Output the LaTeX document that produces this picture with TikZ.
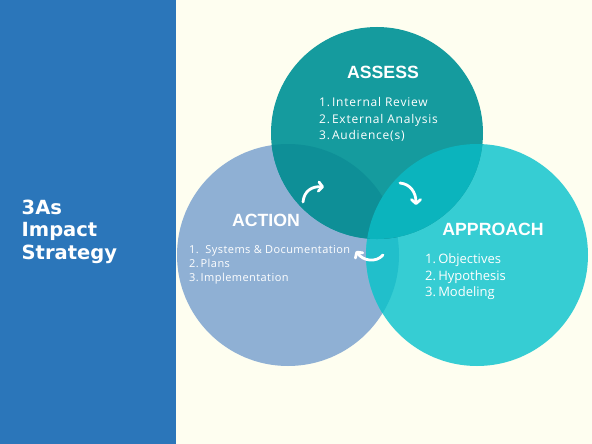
\documentclass[tikz,border=0pt]{standalone}
\usepackage{fontspec}
\setmainfont{Open Sans}
\newfontfamily\headfont{Liberation Sans}
\newfontfamily\titlefont{DejaVu Sans}
\newfontfamily\wideassess{Open Sans}[LetterSpace=6.5]
\newfontfamily\wideaction{Open Sans}[LetterSpace=4]
\usetikzlibrary{arrows.meta}
\definecolor{cream}{HTML}{FEFEF0}
\definecolor{panelblue}{HTML}{2B76BA}
\definecolor{assessteal}{HTML}{159B9E}
\definecolor{actionblue}{HTML}{8FB0D4}
\definecolor{approachcyan}{HTML}{36CDD3}
\definecolor{assessdark}{HTML}{0E8F97}
\definecolor{assessmix}{HTML}{0BB4BD}
\definecolor{actionmix}{HTML}{21BFCB}
\tikzset{
  head/.style={inner sep=0pt, text=white, anchor=base, font=\headfont\bfseries\fontsize{17.7}{20}\selectfont},
  item/.style={inner sep=0pt, text=white, anchor=base west, font=\fontsize{12}{14}\selectfont},
  title/.style={inner sep=0pt, text=white, anchor=base west, font=\titlefont\bfseries\fontsize{19.5}{24}\selectfont},
  turn/.style={draw=white, line width=2.8pt, line cap=round, -{Straight Barb[length=4pt, width=9pt, round]}}
}
\begin{document}
\begin{tikzpicture}[x=1pt, y=-1pt]
    \useasboundingbox (0,0) rectangle (592,444);
    \fill[cream] (0,0) rectangle (592,444);
    \fill[panelblue] (0,0) rectangle (176,444);

    \fill[actionblue] (288,255) circle[radius=111];
    \fill[approachcyan] (477,255) circle[radius=111];
    \begin{scope}
        \clip (288,255) circle[radius=111];
        \fill[actionmix] (477,255) circle[radius=111];
    \end{scope}
    \fill[assessteal] (377,133) circle[radius=106];
    \begin{scope}
        \clip (377,133) circle[radius=106];
        \fill[assessdark] (288,255) circle[radius=111];
        \fill[assessmix] (477,255) circle[radius=111];
    \end{scope}

    \node[title] (t1) at (21.5,214) {3As};
    \node[title] (t2) at (21.5,236.7) {Impact};
    \node[title] (t3) at (21.5,259) {Strategy};

    \node[head] (assess) at (383,78.3) {ASSESS};
    \node[item, font=\wideassess\fontsize{12}{14}\selectfont] (as1) at (319,106.5) {1.\,Internal Review};
    \node[item, font=\wideassess\fontsize{12}{14}\selectfont] (as2) at (319,123) {2.\,External Analysis};
    \node[item, font=\wideassess\fontsize{12}{14}\selectfont] (as3) at (319,139.5) {3.\,Audience(s)};

    \node[head] (action) at (266,226.7) {ACTION};
    \node[item, font=\wideaction\fontsize{11}{13}\selectfont] (ac1) at (189,253) {1.\ \ Systems \& Documentation};
    \node[item, font=\wideaction\fontsize{11}{13}\selectfont] (ac2) at (189,267.5) {2.\,Plans};
    \node[item, font=\wideaction\fontsize{11}{13}\selectfont] (ac3) at (189,281.5) {3.\,Implementation};

    \node[head] (approach) at (493,235) {APPROACH};
    \node[item, font=\fontsize{13}{15}\selectfont] (ap1) at (425,263) {1.\,Objectives};
    \node[item, font=\fontsize{13}{15}\selectfont] (ap2) at (425,280) {2.\,Hypothesis};
    \node[item, font=\fontsize{13}{15}\selectfont] (ap3) at (425,296.5) {3.\,Modeling};

    \coordinate (a1) at (303,202);
    \coordinate (b1) at (324,187);
    \coordinate (a2) at (400,183);
    \coordinate (b2) at (416,205);
    \coordinate (a3) at (383,255);
    \coordinate (b3) at (356,251);
    \draw[turn] (a1) .. controls (304,191) and (312,186) .. (b1);
    \draw[turn] (a2) .. controls (410,184) and (416,192) .. (b2);
    \draw[turn] (a3) .. controls (376,263) and (363,261) .. (b3);
\end{tikzpicture}
\end{document}
